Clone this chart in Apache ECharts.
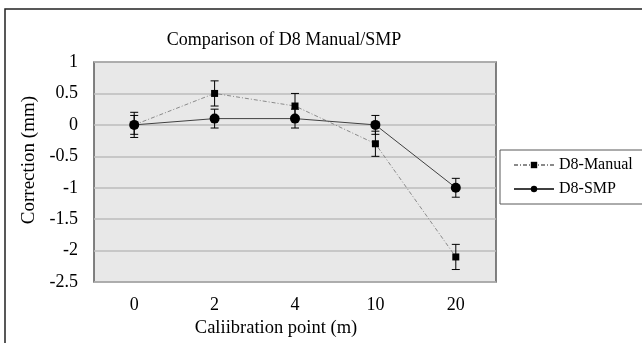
<!DOCTYPE html>
<html>
<head>
<meta charset="utf-8">
<script src="https://cdn.jsdelivr.net/npm/echarts@6/dist/echarts.min.js"></script>
<style>
  html, body { margin: 0; padding: 0; background: #fff; }
  #chart { width: 642px; height: 343px; }
</style>
</head>
<body>
<div id="chart"></div>
<script>
// calibration points along the x axis
const categories = ['0', '2', '4', '10', '20'];

// corrections in mm
const manualValues = [0, 0.5, 0.3, -0.3, -2.1];
const smpValues = [0, 0.1, 0.1, 0, -1.0];

// +/- half width of each error bar
const manualErr = [0.2, 0.2, 0.2, 0.2, 0.2];
const smpErr = [0.15, 0.15, 0.15, 0.15, 0.15];

const FONT = '"Liberation Serif", "DejaVu Serif", serif';

// [category index, low, high] for the custom error bar series
function errorData(values, errs) {
  return values.map(function (v, i) { return [i, v - errs[i], v + errs[i]]; });
}

function renderErrorBar(params, api) {
  const lo = api.coord([api.value(0), api.value(1)]);
  const hi = api.coord([api.value(0), api.value(2)]);
  const cap = 4;
  const style = { stroke: '#000', lineWidth: 1 };
  return {
    type: 'group',
    children: [
      { type: 'line', shape: { x1: lo[0], y1: lo[1], x2: hi[0], y2: hi[1] }, style: style },
      { type: 'line', shape: { x1: lo[0] - cap, y1: lo[1], x2: lo[0] + cap, y2: lo[1] }, style: style },
      { type: 'line', shape: { x1: hi[0] - cap, y1: hi[1], x2: hi[0] + cap, y2: hi[1] }, style: style }
    ]
  };
}

const chart = echarts.init(document.getElementById('chart'), null, { renderer: 'canvas' });

chart.setOption({
  animation: false,
  backgroundColor: '#fff',
  textStyle: { fontFamily: FONT, color: '#000' },
  graphic: [
    {
      type: 'rect',
      shape: { x: 5, y: 9, width: 700, height: 400 },
      style: { fill: 'none', stroke: '#222', lineWidth: 1.5 },
      silent: true,
      z: -1
    }
  ],
  title: {
    text: 'Comparison of D8 Manual/SMP',
    left: 279,
    textAlign: 'center',
    top: 26,
    textStyle: { fontFamily: FONT, fontSize: 18, fontWeight: 'normal', color: '#000' }
  },
  legend: {
    left: 500,
    top: 150,
    orient: 'vertical',
    itemWidth: 40,
    itemHeight: 8,
    itemGap: 8,
    padding: [7, 10, 7, 13],
    borderColor: '#595959',
    borderWidth: 1,
    backgroundColor: '#fff',
    data: ['D8-Manual', 'D8-SMP'],
    textStyle: { fontFamily: FONT, fontSize: 16, color: '#000' }
  },
  grid: {
    left: 94,
    right: 146,
    top: 62,
    bottom: 57,
    show: true,
    backgroundColor: '#e8e8e8',
    borderColor: '#5a5a5a',
    borderWidth: 1.5,
    containLabel: false
  },
  xAxis: {
    type: 'category',
    data: categories,
    name: 'Caliibration point (m)',
    nameLocation: 'middle',
    nameGap: 30,
    nameTextStyle: { fontFamily: FONT, fontSize: 18.5, color: '#000', padding: [0, 38, 0, 0] },
    axisLine: { show: false },
    axisTick: { show: false },
    axisLabel: { fontFamily: FONT, fontSize: 18, color: '#000', margin: 14 }
  },
  yAxis: {
    type: 'value',
    min: -2.5,
    max: 1,
    interval: 0.5,
    name: 'Correction (mm)',
    nameLocation: 'middle',
    nameGap: 38,
    nameTextStyle: { fontFamily: FONT, fontSize: 19, color: '#000', padding: [0, 0, 0, 24] },
    axisLine: { show: false },
    axisTick: { show: false },
    axisLabel: { fontFamily: FONT, fontSize: 18, color: '#000', margin: 16 },
    splitLine: { lineStyle: { color: '#bdbdbd', width: 1.5 } }
  },
  series: [
    {
      name: 'D8-Manual',
      type: 'line',
      data: manualValues,
      symbol: 'rect',
      symbolSize: 7,
      itemStyle: { color: '#000' },
      lineStyle: { color: '#8a8a8a', width: 1, type: [4, 2, 1, 2] },
      z: 3
    },
    {
      name: 'D8-SMP',
      type: 'line',
      data: smpValues,
      symbol: 'circle',
      symbolSize: 10,
      itemStyle: { color: '#000' },
      lineStyle: { color: '#404040', width: 1 },
      z: 3
    },
    {
      type: 'custom',
      renderItem: renderErrorBar,
      data: errorData(manualValues, manualErr),
      encode: { x: 0, y: [1, 2] },
      silent: true,
      z: 2
    },
    {
      type: 'custom',
      renderItem: renderErrorBar,
      data: errorData(smpValues, smpErr),
      encode: { x: 0, y: [1, 2] },
      silent: true,
      z: 2
    }
  ]
});
</script>
</body>
</html>
